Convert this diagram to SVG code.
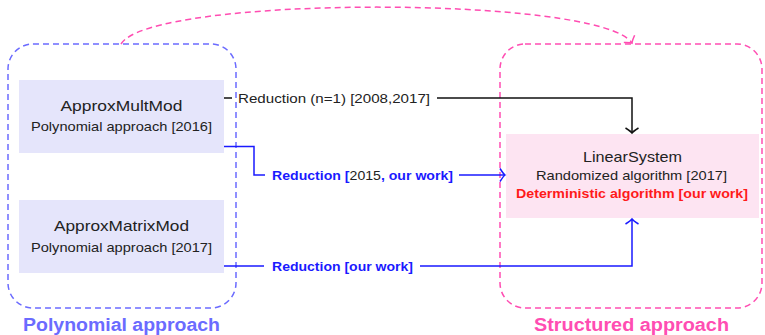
<svg xmlns="http://www.w3.org/2000/svg" width="765" height="335" viewBox="0 0 765 335">
<defs>
<style>
text{font-family:"Liberation Sans","DejaVu Sans",sans-serif;fill:#222;}
.t{font-size:15px;text-anchor:middle;}
.s{font-size:13px;text-anchor:middle;}
.lab{font-size:13px;}
.blue{fill:#1a1aff;font-weight:bold;}
.red{fill:#ff1a1a;font-weight:bold;}
.cont{fill:none;stroke-width:1.5;stroke-dasharray:6,4;}
.conn{fill:none;stroke-width:1.5;}
.title{font-size:18px;font-weight:bold;text-anchor:middle;}
</style>
<marker id="ak" markerUnits="userSpaceOnUse" markerWidth="20" markerHeight="20" refX="0" refY="0" orient="auto" overflow="visible"><path d="M-5,-6.5 Q-1.5,-1 0,0 Q-1.5,1 -5,6.5" fill="none" stroke="#111" stroke-width="1.5"/></marker>
<marker id="ab" markerUnits="userSpaceOnUse" markerWidth="20" markerHeight="20" refX="0" refY="0" orient="auto" overflow="visible"><path d="M-5,-6.5 Q-1.5,-1 0,0 Q-1.5,1 -5,6.5" fill="none" stroke="#1a1aff" stroke-width="1.5"/></marker>
<marker id="ap" markerUnits="userSpaceOnUse" markerWidth="20" markerHeight="20" refX="0" refY="0" orient="auto" overflow="visible"><path d="M-5,-6.5 Q-1.5,-1 0,0 Q-1.5,1 -5,6.5" fill="none" stroke="#ff4db2" stroke-width="1.5"/></marker>
</defs>
<rect width="765" height="335" fill="#fff"/>

<g id="polynomial-group">
<rect class="cont" x="8" y="44" width="228" height="264" rx="25" stroke="#6b6bff"/>
<text class="title" x="121.5" y="331" style="fill:#6b6bff" textLength="197" lengthAdjust="spacingAndGlyphs">Polynomial approach</text>
</g>
<g id="structured-group">
<rect class="cont" x="500" y="44" width="262" height="264" rx="25" stroke="#ff4db2"/>
<text class="title" x="631.5" y="331" style="fill:#ff4db2" textLength="195" lengthAdjust="spacingAndGlyphs">Structured approach</text>
</g>

<g id="ApproxMultMod">
<rect x="19" y="80" width="205" height="73" fill="#e5e5fb"/>
<text class="t" x="121.5" y="111" textLength="122" lengthAdjust="spacingAndGlyphs">ApproxMultMod</text>
<text class="s" x="121.5" y="131" textLength="181" lengthAdjust="spacingAndGlyphs">Polynomial approach [2016]</text>
</g>
<g id="ApproxMatrixMod">
<rect x="19" y="200" width="205" height="73" fill="#e5e5fb"/>
<text class="t" x="121.5" y="231" textLength="135" lengthAdjust="spacingAndGlyphs">ApproxMatrixMod</text>
<text class="s" x="121.5" y="252" textLength="181" lengthAdjust="spacingAndGlyphs">Polynomial approach [2017]</text>
</g>
<g id="LinearSystem">
<rect x="506" y="134" width="253" height="84" fill="#fde4f2"/>
<text class="t" x="632.5" y="162" textLength="99" lengthAdjust="spacingAndGlyphs">LinearSystem</text>
<text class="s" x="631.5" y="180" textLength="191" lengthAdjust="spacingAndGlyphs">Randomized algorithm [2017]</text>
<text class="s red" x="632" y="198" textLength="232" lengthAdjust="spacingAndGlyphs">Deterministic algorithm [our work]</text>
</g>

<g id="connectors">
<path class="conn" d="M121,44 C150,-5 600,-5 632,43" stroke="#ff4db2" stroke-dasharray="6,4" marker-end="url(#ap)"/>
<path class="conn" d="M224,98 H232" stroke="#111"/>
<path class="conn" d="M437,98 H632 V133" stroke="#111" marker-end="url(#ak)"/>
<text class="lab" x="238" y="102.5" textLength="192" lengthAdjust="spacingAndGlyphs">Reduction (n=1) [2008,2017]</text>
<path class="conn" d="M224,146.5 H254 V175 H265" stroke="#1a1aff"/>
<path class="conn" d="M459,175 H505" stroke="#1a1aff" marker-end="url(#ab)"/>
<text class="lab" x="272" y="179.5" textLength="181" lengthAdjust="spacingAndGlyphs"><tspan class="blue">Reduction [</tspan><tspan>2015</tspan><tspan class="blue">, our work]</tspan></text>
<path class="conn" d="M224,266 H264" stroke="#1a1aff"/>
<path class="conn" d="M420,266 H632 V219" stroke="#1a1aff" marker-end="url(#ab)"/>
<text class="lab blue" x="272" y="270.5" textLength="141" lengthAdjust="spacingAndGlyphs">Reduction [our work]</text>
</g>
</svg>
